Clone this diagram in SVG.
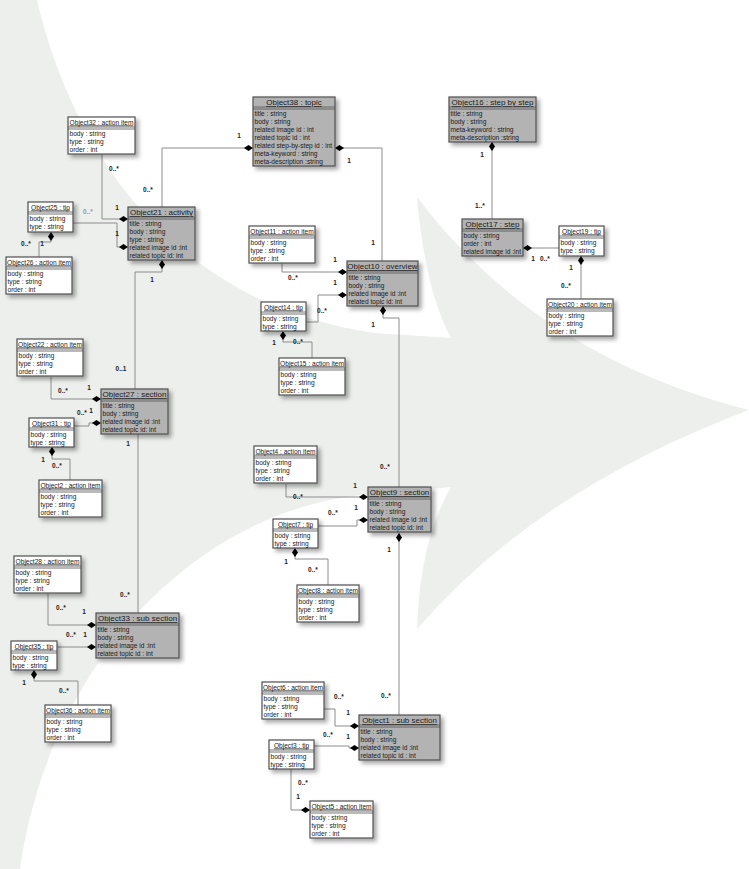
<svg xmlns="http://www.w3.org/2000/svg" xmlns:xlink="http://www.w3.org/1999/xlink" width="749" height="869" viewBox="0 0 749 869">
<style>
text{font-family:"Liberation Sans",Arial,sans-serif;fill:#1a1a1a}
.g{fill:#b3b3b3;stroke:#505050;stroke-width:1.2;filter:url(#sh)}
.w{fill:#ffffff;stroke:#505050;stroke-width:1.2;filter:url(#sh)}
.sep{stroke:#505050;stroke-width:0.8;fill:none}
.tg{font-size:8px;text-anchor:middle;text-decoration:underline}
.tw{font-size:6.6px;text-anchor:middle;text-decoration:underline}
.a{font-size:6.6px}
.c{fill:none;stroke:#8c8c8c;stroke-width:1}
.d{fill:#000}
.l{font-size:6.5px;font-weight:bold;text-anchor:middle;fill:#222}
.lt{fill:#999}
</style>
<defs>
<filter id="sh" x="-20%" y="-20%" width="150%" height="160%">
<feDropShadow dx="3" dy="3" stdDeviation="2.2" flood-color="#000" flood-opacity="0.35"/>
</filter>
<path id="dl" d="M0,0 l-4.5,-3 l-4.5,3 l4.5,3 z"/>
<path id="dr" d="M0,0 l4.5,-3 l4.5,3 l-4.5,3 z"/>
<path id="dd" d="M0,0 l3,4.5 l-3,4.5 l-3,-4.5 z"/>
</defs>
<rect width="749" height="869" fill="#ffffff"/>
<path d="M0,0 L37,0 C65,120 150,300 375,333 L451,338 Q425,290 417,197 Q537,356 749,410 Q537,490 417,629 Q420,540 451,487 L375,494 C200,505 50,660 20,869 L0,869 Z" fill="#edefed"/>

<g id="connectors">
<path class="c" d="M253,148 H162 V207"/>
<path class="c" d="M335,148 H382 V261"/>
<path class="c" d="M102,154 V219 H128"/>
<path class="c" d="M73,223 H117 V247 H128"/>
<path class="c" d="M39,257 V242 H51 V232"/>
<path class="c" d="M162,260 V272 H135 V389"/>
<path class="c" d="M51,377 V399 H101"/>
<path class="c" d="M74,426 H89 V423 H101"/>
<path class="c" d="M52,447 V459 H70 V480"/>
<path class="c" d="M138,434 V613"/>
<path class="c" d="M48,594 V625 H96"/>
<path class="c" d="M57,647 H96"/>
<path class="c" d="M34,670 V681 H78 V705"/>
<path class="c" d="M282,263 V272 H347"/>
<path class="c" d="M306,322 H318 V295 H347"/>
<path class="c" d="M283,331 V342 H312 V358"/>
<path class="c" d="M383,306 V318 H399 V487"/>
<path class="c" d="M286,484 V497 H368"/>
<path class="c" d="M318,526 H357 V520 H368"/>
<path class="c" d="M295,548 V559 H328 V585"/>
<path class="c" d="M399,533 V715"/>
<path class="c" d="M324,709 H335 V726 H359"/>
<path class="c" d="M314,746 H349 V748 H359"/>
<path class="c" d="M291,769 V810 H310"/>
<path class="c" d="M492,142 V219"/>
<path class="c" d="M559,248 H523"/>
<path class="c" d="M581,256 V299"/>
<g class="d">
<use xlink:href="#dl" x="253" y="148"/>
<use xlink:href="#dr" x="335" y="148"/>
<use xlink:href="#dl" x="128" y="219"/>
<use xlink:href="#dl" x="128" y="247"/>
<use xlink:href="#dd" x="51" y="232"/>
<use xlink:href="#dd" x="162" y="260"/>
<use xlink:href="#dl" x="101" y="399"/>
<use xlink:href="#dl" x="101" y="423"/>
<use xlink:href="#dd" x="52" y="447"/>
<use xlink:href="#dl" x="96" y="625"/>
<use xlink:href="#dl" x="96" y="647"/>
<use xlink:href="#dd" x="34" y="670"/>
<use xlink:href="#dl" x="347" y="272"/>
<use xlink:href="#dl" x="347" y="295"/>
<use xlink:href="#dd" x="283" y="331"/>
<use xlink:href="#dd" x="383" y="306"/>
<use xlink:href="#dl" x="368" y="497"/>
<use xlink:href="#dl" x="368" y="520"/>
<use xlink:href="#dd" x="295" y="548"/>
<use xlink:href="#dd" x="399" y="533"/>
<use xlink:href="#dl" x="359" y="726"/>
<use xlink:href="#dl" x="359" y="748"/>
<use xlink:href="#dl" x="310" y="810"/>
<use xlink:href="#dd" x="492" y="142"/>
<use xlink:href="#dr" x="523" y="248"/>
<use xlink:href="#dd" x="581" y="256"/>
</g>
<g>
<text class="l" x="239" y="138.3">1</text>
<text class="l" x="148" y="192.3">0..*</text>
<text class="l" x="349" y="163.3">1</text>
<text class="l" x="373" y="245.3">1</text>
<text class="l" x="114" y="171.3">0..*</text>
<text class="l" x="117" y="210.3">1</text>
<text class="l lt" x="88" y="214.3">0..*</text>
<text class="l" x="117" y="236.3">1</text>
<text class="l" x="26" y="246.3">0..*</text>
<text class="l" x="42" y="246.3">1</text>
<text class="l" x="152" y="282.3">1</text>
<text class="l" x="121" y="371.3">0..1</text>
<text class="l" x="63" y="393.3">0..*</text>
<text class="l" x="89" y="390.3">1</text>
<text class="l" x="82" y="415.3">0..*</text>
<text class="l" x="91" y="413.3">1</text>
<text class="l" x="43" y="462.3">1</text>
<text class="l" x="57" y="468.3">0..*</text>
<text class="l" x="128" y="446.3">1</text>
<text class="l" x="125" y="597.3">0..*</text>
<text class="l" x="61" y="610.3">0..*</text>
<text class="l" x="84" y="614.3">1</text>
<text class="l" x="71" y="637.3">0..*</text>
<text class="l" x="85" y="637.3">1</text>
<text class="l" x="24" y="685.3">1</text>
<text class="l" x="64" y="693.3">0..*</text>
<text class="l" x="293" y="280.3">0..*</text>
<text class="l" x="335" y="262.3">1</text>
<text class="l" x="322" y="313.3">0..*</text>
<text class="l" x="335" y="285.3">1</text>
<text class="l" x="274" y="345.3">1</text>
<text class="l" x="298" y="344.3">0..*</text>
<text class="l" x="373" y="327.3">1</text>
<text class="l" x="385" y="469.3">0..*</text>
<text class="l" x="298" y="499.3">0..*</text>
<text class="l" x="355" y="488.3">1</text>
<text class="l" x="333" y="515.3">0..*</text>
<text class="l" x="356" y="510.3">1</text>
<text class="l" x="286" y="564.3">1</text>
<text class="l" x="313" y="572.3">0..*</text>
<text class="l" x="389" y="552.3">1</text>
<text class="l" x="386" y="698.3">0..*</text>
<text class="l" x="339" y="699.3">0..*</text>
<text class="l" x="348" y="715.3">1</text>
<text class="l" x="328" y="737.3">0..*</text>
<text class="l" x="348" y="739.3">1</text>
<text class="l" x="303" y="785.3">0..*</text>
<text class="l" x="298" y="799.3">1</text>
<text class="l" x="482" y="157.3">1</text>
<text class="l" x="480" y="208.3">1..*</text>
<text class="l" x="533" y="261.3">1</text>
<text class="l" x="545" y="261.3">0..*</text>
<text class="l" x="571" y="270.3">1</text>
<text class="l" x="566" y="288.3">0..*</text>
</g>
</g>

<g id="Object38" transform="translate(253,97)">
<rect class="g" width="82" height="69"/>
<text class="tg" x="41" y="8">Object38 : topic</text>
<path class="sep" d="M0,10H82M0,12H82"/>
<text class="a" x="1.5" y="18.5">title : string</text>
<text class="a" x="1.5" y="26.5">body : string</text>
<text class="a" x="1.5" y="34.5">related image id : int</text>
<text class="a" x="1.5" y="42.5">related topic id : int</text>
<text class="a" x="1.5" y="50.5">related step-by-step id : int</text>
<text class="a" x="1.5" y="58.5">meta-keyword : string</text>
<text class="a" x="1.5" y="66.5">meta-description :string</text>
</g>

<g id="Object21" transform="translate(128,207)">
<rect class="g" width="67" height="53"/>
<text class="tg" x="33.5" y="8">Object21 : activity</text>
<path class="sep" d="M0,10H67M0,12H67"/>
<text class="a" x="1.5" y="18.5">title : string</text>
<text class="a" x="1.5" y="26.5">body : string</text>
<text class="a" x="1.5" y="34.5">type : string</text>
<text class="a" x="1.5" y="42.5">related image id :int</text>
<text class="a" x="1.5" y="50.5">related topic id: int</text>
</g>

<g id="Object10" transform="translate(347,261)">
<rect class="g" width="71" height="45"/>
<text class="tg" x="35.5" y="8">Object10 : overview</text>
<path class="sep" d="M0,10H71M0,12H71"/>
<text class="a" x="1.5" y="18.5">title : string</text>
<text class="a" x="1.5" y="26.5">body : string</text>
<text class="a" x="1.5" y="34.5">related image id :int</text>
<text class="a" x="1.5" y="42.5">related topic id: int</text>
</g>

<g id="Object27" transform="translate(101,389)">
<rect class="g" width="67" height="45"/>
<text class="tg" x="33.5" y="8">Object27 : section</text>
<path class="sep" d="M0,10H67M0,12H67"/>
<text class="a" x="1.5" y="18.5">title : string</text>
<text class="a" x="1.5" y="26.5">body : string</text>
<text class="a" x="1.5" y="34.5">related image id :int</text>
<text class="a" x="1.5" y="42.5">related topic id: int</text>
</g>

<g id="Object33" transform="translate(96,613)">
<rect class="g" width="83" height="45"/>
<text class="tg" x="41.5" y="8">Object33 : sub section</text>
<path class="sep" d="M0,10H83M0,12H83"/>
<text class="a" x="1.5" y="18.5">title : string</text>
<text class="a" x="1.5" y="26.5">body : string</text>
<text class="a" x="1.5" y="34.5">related image id :int</text>
<text class="a" x="1.5" y="42.5">related topic id : int</text>
</g>

<g id="Object9" transform="translate(368,487)">
<rect class="g" width="63" height="45"/>
<text class="tg" x="31.5" y="8">Object9 : section</text>
<path class="sep" d="M0,10H63M0,12H63"/>
<text class="a" x="1.5" y="18.5">title : string</text>
<text class="a" x="1.5" y="26.5">body : string</text>
<text class="a" x="1.5" y="34.5">related image id :int</text>
<text class="a" x="1.5" y="42.5">related topic id: int</text>
</g>

<g id="Object1" transform="translate(359,715)">
<rect class="g" width="81" height="45"/>
<text class="tg" x="40.5" y="8">Object1 : sub section</text>
<path class="sep" d="M0,10H81M0,12H81"/>
<text class="a" x="1.5" y="18.5">title : string</text>
<text class="a" x="1.5" y="26.5">body : string</text>
<text class="a" x="1.5" y="34.5">related image id :int</text>
<text class="a" x="1.5" y="42.5">related topic id : int</text>
</g>

<g id="Object16" transform="translate(449,97)">
<rect class="g" width="87" height="45"/>
<text class="tg" x="43.5" y="8">Object16 : step by step</text>
<path class="sep" d="M0,10H87M0,12H87"/>
<text class="a" x="1.5" y="18.5">title : string</text>
<text class="a" x="1.5" y="26.5">body : string</text>
<text class="a" x="1.5" y="34.5">meta-keyword : string</text>
<text class="a" x="1.5" y="42.5">meta-description :string</text>
</g>

<g id="Object17" transform="translate(462,219)">
<rect class="g" width="61" height="37"/>
<text class="tg" x="30.5" y="8">Object17 : step</text>
<path class="sep" d="M0,10H61M0,12H61"/>
<text class="a" x="1.5" y="18.5">body : string</text>
<text class="a" x="1.5" y="26.5">order : int</text>
<text class="a" x="1.5" y="34.5">related image id :int</text>
</g>

<g id="Object32" transform="translate(68,117)">
<rect class="w" width="67" height="37"/>
<text class="tw" x="33.5" y="7.5">Object32 : action item</text>
<path class="sep" d="M0,10H67M0,12H67"/>
<text class="a" x="1.5" y="18.5">body : string</text>
<text class="a" x="1.5" y="26.5">type : string</text>
<text class="a" x="1.5" y="34.5">order : int</text>
</g>

<g id="Object25" transform="translate(28,202)">
<rect class="w" width="45" height="30"/>
<text class="tw" x="22.5" y="7.5">Object25 : tip</text>
<path class="sep" d="M0,10H45M0,12H45"/>
<text class="a" x="1.5" y="19">body : string</text>
<text class="a" x="1.5" y="27">type : string</text>
</g>

<g id="Object26" transform="translate(6,257)">
<rect class="w" width="66" height="37"/>
<text class="tw" x="33" y="7.5">Object26 : action item</text>
<path class="sep" d="M0,10H66M0,12H66"/>
<text class="a" x="1.5" y="18.5">body : string</text>
<text class="a" x="1.5" y="26.5">type : string</text>
<text class="a" x="1.5" y="34.5">order : int</text>
</g>

<g id="Object11" transform="translate(249,226)">
<rect class="w" width="66" height="37"/>
<text class="tw" x="33" y="7.5">Object11 : action item</text>
<path class="sep" d="M0,10H66M0,12H66"/>
<text class="a" x="1.5" y="18.5">body : string</text>
<text class="a" x="1.5" y="26.5">type : string</text>
<text class="a" x="1.5" y="34.5">order : int</text>
</g>

<g id="Object14" transform="translate(261,302)">
<rect class="w" width="45" height="29"/>
<text class="tw" x="22.5" y="7.5">Object14 : tip</text>
<path class="sep" d="M0,10H45M0,12H45"/>
<text class="a" x="1.5" y="18.5">body : string</text>
<text class="a" x="1.5" y="26.5">type : string</text>
</g>

<g id="Object15" transform="translate(279,358)">
<rect class="w" width="66" height="37"/>
<text class="tw" x="33" y="7.5">Object15 : action item</text>
<path class="sep" d="M0,10H66M0,12H66"/>
<text class="a" x="1.5" y="18.5">body : string</text>
<text class="a" x="1.5" y="26.5">type : string</text>
<text class="a" x="1.5" y="34.5">order : int</text>
</g>

<g id="Object22" transform="translate(17,339)">
<rect class="w" width="66" height="37"/>
<text class="tw" x="33" y="7.5">Object22 : action item</text>
<path class="sep" d="M0,10H66M0,12H66"/>
<text class="a" x="1.5" y="18.5">body : string</text>
<text class="a" x="1.5" y="26.5">type : string</text>
<text class="a" x="1.5" y="34.5">order : int</text>
</g>

<g id="Object31" transform="translate(29,418)">
<rect class="w" width="45" height="29"/>
<text class="tw" x="22.5" y="7.5">Object31 : tip</text>
<path class="sep" d="M0,10H45M0,12H45"/>
<text class="a" x="1.5" y="18.5">body : string</text>
<text class="a" x="1.5" y="26.5">type : string</text>
</g>

<g id="Object2" transform="translate(39,480)">
<rect class="w" width="63" height="37"/>
<text class="tw" x="31.5" y="7.5">Object2 : action item</text>
<path class="sep" d="M0,10H63M0,12H63"/>
<text class="a" x="1.5" y="18.5">body : string</text>
<text class="a" x="1.5" y="26.5">type : string</text>
<text class="a" x="1.5" y="34.5">order : int</text>
</g>

<g id="Object28" transform="translate(14,556)">
<rect class="w" width="67" height="37"/>
<text class="tw" x="33.5" y="7.5">Object28 : action item</text>
<path class="sep" d="M0,10H67M0,12H67"/>
<text class="a" x="1.5" y="18.5">body : string</text>
<text class="a" x="1.5" y="26.5">type : string</text>
<text class="a" x="1.5" y="34.5">order : int</text>
</g>

<g id="Object35" transform="translate(11,641)">
<rect class="w" width="46" height="29"/>
<text class="tw" x="23" y="7.5">Object35 : tip</text>
<path class="sep" d="M0,10H46M0,12H46"/>
<text class="a" x="1.5" y="18.5">body : string</text>
<text class="a" x="1.5" y="26.5">type : string</text>
</g>

<g id="Object36" transform="translate(45,705)">
<rect class="w" width="66" height="37"/>
<text class="tw" x="33" y="7.5">Object36 : action item</text>
<path class="sep" d="M0,10H66M0,12H66"/>
<text class="a" x="1.5" y="18.5">body : string</text>
<text class="a" x="1.5" y="26.5">type : string</text>
<text class="a" x="1.5" y="34.5">order : int</text>
</g>

<g id="Object4" transform="translate(254,446)">
<rect class="w" width="63" height="37"/>
<text class="tw" x="31.5" y="7.5">Object4 : action item</text>
<path class="sep" d="M0,10H63M0,12H63"/>
<text class="a" x="1.5" y="18.5">body : string</text>
<text class="a" x="1.5" y="26.5">type : string</text>
<text class="a" x="1.5" y="34.5">order : int</text>
</g>

<g id="Object7" transform="translate(273,519)">
<rect class="w" width="45" height="29"/>
<text class="tw" x="22.5" y="7.5">Object7 : tip</text>
<path class="sep" d="M0,10H45M0,12H45"/>
<text class="a" x="1.5" y="18.5">body : string</text>
<text class="a" x="1.5" y="26.5">type : string</text>
</g>

<g id="Object8" transform="translate(297,585)">
<rect class="w" width="62" height="37"/>
<text class="tw" x="31" y="7.5">Object8 : action item</text>
<path class="sep" d="M0,10H62M0,12H62"/>
<text class="a" x="1.5" y="18.5">body : string</text>
<text class="a" x="1.5" y="26.5">type : string</text>
<text class="a" x="1.5" y="34.5">order : int</text>
</g>

<g id="Object6" transform="translate(262,682)">
<rect class="w" width="62" height="37"/>
<text class="tw" x="31" y="7.5">Object6 : action item</text>
<path class="sep" d="M0,10H62M0,12H62"/>
<text class="a" x="1.5" y="18.5">body : string</text>
<text class="a" x="1.5" y="26.5">type : string</text>
<text class="a" x="1.5" y="34.5">order : int</text>
</g>

<g id="Object3" transform="translate(269,740)">
<rect class="w" width="45" height="29"/>
<text class="tw" x="22.5" y="7.5">Object3 : tip</text>
<path class="sep" d="M0,10H45M0,12H45"/>
<text class="a" x="1.5" y="18.5">body : string</text>
<text class="a" x="1.5" y="26.5">type : string</text>
</g>

<g id="Object5" transform="translate(310,801)">
<rect class="w" width="63" height="37"/>
<text class="tw" x="31.5" y="7.5">Object5 : action item</text>
<path class="sep" d="M0,10H63M0,12H63"/>
<text class="a" x="1.5" y="18.5">body : string</text>
<text class="a" x="1.5" y="26.5">type : string</text>
<text class="a" x="1.5" y="34.5">order : int</text>
</g>

<g id="Object19" transform="translate(559,226)">
<rect class="w" width="45" height="30"/>
<text class="tw" x="22.5" y="7.5">Object19 : tip</text>
<path class="sep" d="M0,10H45M0,12H45"/>
<text class="a" x="1.5" y="19">body : string</text>
<text class="a" x="1.5" y="27">type : string</text>
</g>

<g id="Object20" transform="translate(547,299)">
<rect class="w" width="66" height="37"/>
<text class="tw" x="33" y="7.5">Object20 : action item</text>
<path class="sep" d="M0,10H66M0,12H66"/>
<text class="a" x="1.5" y="18.5">body : string</text>
<text class="a" x="1.5" y="26.5">type : string</text>
<text class="a" x="1.5" y="34.5">order : int</text>
</g>
</svg>
